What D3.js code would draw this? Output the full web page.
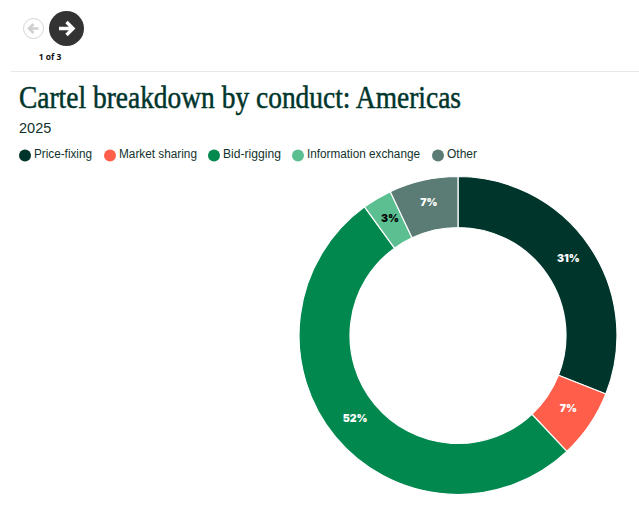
<!DOCTYPE html>
<html><head><meta charset="utf-8">
<script src="https://cdn.jsdelivr.net/npm/d3@7"></script>
<style>html,body{margin:0;padding:0;background:#fff}svg{display:block}</style>
</head><body><svg id="c" width="639" height="512"></svg>
<script>
const categories = ["Price-fixing","Market sharing","Bid-rigging","Information exchange","Other"];
const values = [31,7,52,3,7];
const colors = ["#00352c","#ff5f4a","#00884f","#5cbf92","#5b7c74"];
const labelColors = ["#fff","#fff","#fff","#000","#fff"];
const legendX = [19,104,208,292,432];
const legendWidths = [58,78,58,113,30];
const title = "Cartel breakdown by conduct: Americas";
const subtitle = "2025";
const pager = "1 of 3";

const svg = d3.select("#c");
const sans = "'Liberation Sans', Arial, sans-serif";
// pager
const prev = svg.append("g").attr("transform","translate(33.5,28.5)");
prev.append("circle").attr("r",10).attr("fill","#fff").attr("stroke","#d4d4d4").attr("stroke-width",1);
prev.append("path").attr("d","M5,0H-3M0,-4.5L-4.5,0L0,4.5").attr("fill","none").attr("stroke","#cfcfcf").attr("stroke-width",2.6);
const next = svg.append("g").attr("transform","translate(66.5,28.5)");
next.append("circle").attr("r",17.5).attr("fill","#333");
next.append("path").attr("d","M-7.5,0H6M0,-6.5L6.5,0L0,6.5").attr("fill","none").attr("stroke","#fff").attr("stroke-width",3.4);
svg.append("text").text(pager).attr("x",50).attr("y",60).attr("text-anchor","middle")
  .attr("font-family","'Open Sans',sans-serif").attr("font-weight",700).attr("font-size",8.5).attr("fill","#111");
svg.append("line").attr("x1",11).attr("x2",639).attr("y1",71.5).attr("y2",71.5).attr("stroke","#e8e8e8");
// headings
svg.append("text").text(title).attr("x",19).attr("y",108).attr("textLength",442).attr("lengthAdjust","spacingAndGlyphs")
  .attr("font-family","'Liberation Serif',serif").attr("font-size",31).attr("fill","#00352c")
  .attr("stroke","#00352c").attr("stroke-width",0.5);
svg.append("text").text(subtitle).attr("x",19).attr("y",133).attr("font-family",sans).attr("font-size",14.5).attr("fill","#12332c");
// legend
const lg = svg.selectAll("g.lg").data(categories).join("g").attr("class","lg")
  .attr("transform",(d,i)=>`translate(${legendX[i]},155.5)`);
lg.append("circle").attr("cx",6).attr("r",6).attr("fill",(d,i)=>colors[i]);
lg.append("text").text(d=>d).attr("x",15).attr("y",2.5).attr("textLength",(d,i)=>legendWidths[i]).attr("lengthAdjust","spacingAndGlyphs")
  .attr("font-family",sans).attr("font-size",12.5).attr("fill","#12332c");
// donut
const pie = d3.pie().sort(null).value(d=>d)(values);
const arc = d3.arc().innerRadius(108).outerRadius(159);
const g = svg.append("g").attr("transform","translate(458,335.5)");
g.selectAll("path").data(pie).join("path").attr("d",arc).attr("fill",(d,i)=>colors[i]).attr("stroke","#fff").attr("stroke-width",1.2);
g.selectAll("text").data(pie).join("text").text(d=>d.value+"%")
  .attr("transform",d=>`translate(${arc.centroid(d)})`).attr("text-anchor","middle").attr("dy","0.1em")
  .attr("font-family","Inter,'Liberation Sans',sans-serif").attr("font-weight",900).attr("font-size",10.5)
  .attr("fill",(d,i)=>labelColors[i]);
</script></body></html>
